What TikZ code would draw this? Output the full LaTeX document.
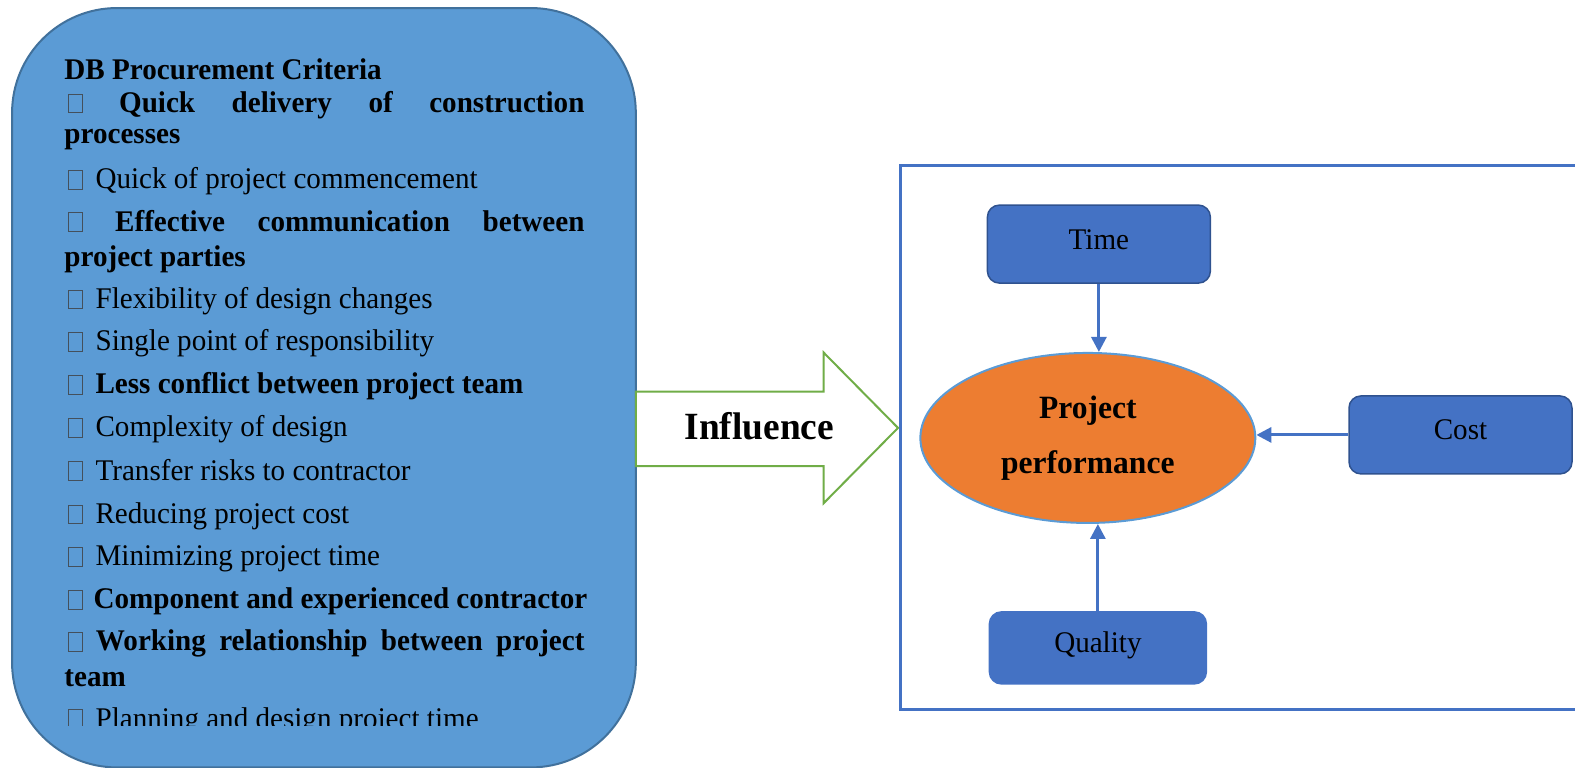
\documentclass[tikz,border=0pt]{standalone}
\usepackage{fontspec}
\setmainfont[FakeStretch=0.97]{Liberation Serif}
\usetikzlibrary{arrows.meta,shapes.geometric}
\definecolor{critblue}{HTML}{5B9BD5}
\definecolor{critedge}{HTML}{41719C}
\definecolor{factblue}{HTML}{4472C4}
\definecolor{factedge}{HTML}{2F528F}
\definecolor{perforange}{HTML}{ED7D31}
\definecolor{inflgreen}{HTML}{70AD47}
\definecolor{glyphgray}{HTML}{44505C}
% missing bullet glyph
\newcommand{\nobul}{\hspace{4pt}{\color{glyphgray}\setlength{\fboxsep}{0pt}\setlength{\fboxrule}{0.8pt}\fbox{\rule{0pt}{18pt}\hspace{12.5pt}}}}
\begin{document}
\begin{tikzpicture}[x=1.0045pt,y=-1.0045pt, >={Triangle[length=15pt,width=15pt]},
  item/.style={anchor=base west,inner sep=0pt,font=\fontsize{30}{36}\selectfont},
  factor/.style={draw=factedge,fill=factblue,rounded corners=12pt,line width=1.5pt,
    minimum width=223pt,minimum height=78pt,text height=20pt,text depth=10pt,
    font=\fontsize{30}{36}\selectfont},
  link/.style={->,draw=factblue,line width=3pt}]
\useasboundingbox (0,0) rectangle (1568,763.6);
\draw[fill=critblue,draw=critedge,line width=2pt,rounded corners=105pt] (12,8) rectangle (633,764);
\begin{scope}
\clip (0,0) rectangle (1568,722);
\node[item] (c0) at (64,79) {\bfseries DB Procurement Criteria};
\node[item] (c1) at (64,112) {\bfseries\makebox[520pt][s]{\nobul\ Quick delivery of construction}};
\node[item] (c1b) at (64,143) {\bfseries processes};
\node[item] (c2) at (64,188) {\nobul\hspace{13pt}Quick of project commencement};
\node[item] (c3) at (64,230) {\bfseries\makebox[520pt][s]{\nobul\ Effective communication between}};
\node[item] (c3b) at (64,265) {\bfseries project parties};
\node[item] (c4) at (64,307) {\nobul\hspace{13pt}Flexibility of design changes};
\node[item] (c5) at (64,349) {\nobul\hspace{13pt}Single point of responsibility};
\node[item] (c6) at (64,392) {\bfseries\nobul\hspace{13pt}Less conflict between project team};
\node[item] (c7) at (64,435) {\nobul\hspace{13pt}Complexity of design};
\node[item] (c8) at (64,478) {\nobul\hspace{13pt}Transfer risks to contractor};
\node[item] (c9) at (64,521) {\nobul\hspace{13pt}Reducing project cost};
\node[item] (c10) at (64,563) {\nobul\hspace{13pt}Minimizing project time};
\node[item] (c11) at (64,606) {\bfseries\nobul\hspace{11pt}Component and experienced contractor};
\node[item] (c12) at (64,648) {\bfseries\makebox[520pt][s]{\nobul\ Working relationship between project}};
\node[item] (c12b) at (64,683) {\bfseries team};
\node[item] (c13) at (64,725) {\nobul\hspace{13pt}Planning and design project time};
\end{scope}

\draw[draw=inflgreen,fill=white,line width=2pt] (633,390)--(820,390)--(820,351)--(894,426)--(820,501)--(820,464)--(633,464)--cycle;
\node[font=\fontsize{38.5}{46}\selectfont\bfseries] (infl) at (756,424) {Influence};

\draw[factblue,line width=3pt] (1568,165)--(896,165)--(896,706)--(1568,706);

\node[ellipse,fill=perforange,draw=critblue,line width=2pt,minimum width=335pt,minimum height=170pt,
  align=center,font=\fontsize{32.5}{38}\selectfont\bfseries] (perf) at (1083,436) {Project\\[17pt]performance};
\node[factor] (time) at (1094,243) {Time};
\node[factor] (cost) at (1454,433) {Cost};
\node[factor,draw=factblue,minimum width=217pt,minimum height=72pt] (qual) at (1093,645) {Quality};

\draw[link] (time.south)--(time.south |- perf.north);
\draw[link] (cost.west)--(cost.west -| perf.east);
\draw[link] (qual.north)--(qual.north |- perf.south);
\end{tikzpicture}
\end{document}
